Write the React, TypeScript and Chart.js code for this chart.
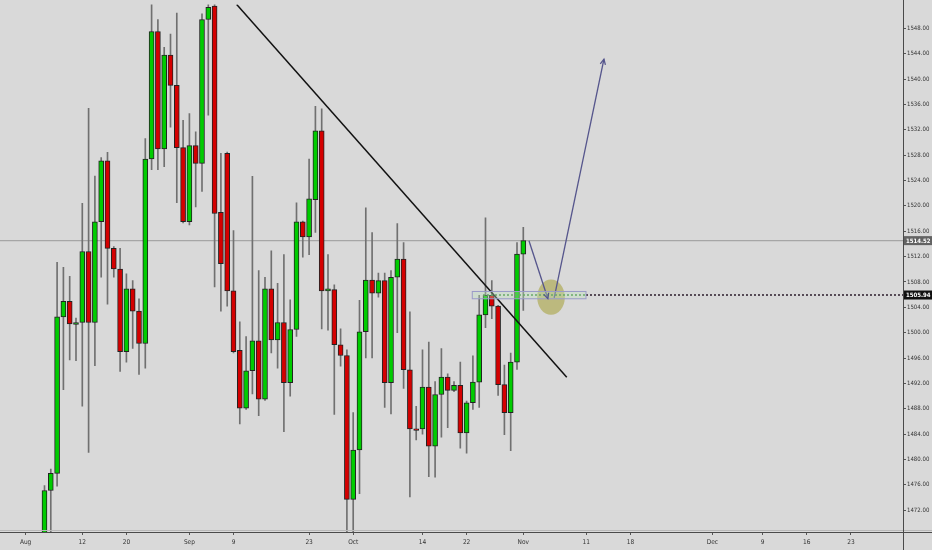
import React, { useEffect, useRef } from "react";
import { Chart, registerables } from "chart.js";
Chart.register(...registerables);

// ---- data (daily candles, index 0 = first visible candle in early Aug) ----
const opens = [
  1466, 1475.1, 1477.8, 1502.5, 1504.95, 1501.3, 1501.6, 1512.8, 1501.6, 1517.5,
  1527.1, 1513.3, 1510.05, 1497.0, 1506.9, 1503.4, 1498.3, 1527.4, 1547.5, 1529.0,
  1543.8, 1539.0, 1529.2, 1517.5, 1529.5, 1526.7, 1549.4, 1551.5, 1519.0, 1528.3,
  1506.6, 1497.2, 1488.1, 1494.0, 1498.7, 1489.5, 1506.9, 1498.85, 1501.6, 1492.1,
  1500.5, 1517.5, 1515.1, 1521.0, 1531.85, 1506.6, 1506.8, 1498.1, 1496.4, 1473.7,
  1481.5, 1500.15, 1508.3, 1506.25, 1508.2, 1492.1, 1508.75, 1511.6, 1494.15, 1484.8,
  1484.8, 1491.4, 1482.1, 1490.25, 1493.0, 1490.9, 1491.7, 1484.2, 1488.95, 1492.2,
  1502.8, 1505.9, 1504.2, 1491.8, 1487.4, 1495.35, 1512.4,
];
const highs = [
  1475.9, 1478.5, 1511.1, 1510.3, 1508.9, 1502.3, 1520.4, 1535.4, 1524.7, 1527.6,
  1528.45, 1513.6, 1513.3, 1509.3, 1508.2, 1505.35, 1530.6, 1553.0, 1549.4, 1545.0,
  1547.1, 1550.4, 1533.5, 1534.55, 1531.7, 1550.3, 1554.0, 1554.5, 1528.3, 1528.5,
  1516.1, 1501.7, 1499.4, 1524.65, 1509.8, 1508.75, 1512.9, 1507.8, 1512.3, 1505.2,
  1520.5, 1517.6, 1527.4, 1535.7, 1535.3, 1512.3, 1507.55, 1500.6, 1497.3, 1487.4,
  1505.1, 1519.7, 1515.8, 1509.4, 1509.4, 1509.8, 1517.2, 1514.2, 1503.3, 1488.4,
  1497.3, 1498.5, 1492.3, 1497.5, 1493.5, 1492.3, 1495.35, 1489.2, 1496.35, 1505.9,
  1518.1, 1508.2, 1504.3, 1494.9, 1496.8, 1514.2, 1516.6,
];
const lows = [
  1462, 1467, 1475.8, 1491.0, 1495.7, 1495.6, 1488.4, 1481.1, 1494.8, 1508.75,
  1504.5, 1508.75, 1493.9, 1495.35, 1497.5, 1493.4, 1494.4, 1525.7, 1525.7, 1526.2,
  1532.4, 1520.5, 1517.3, 1517.0, 1519.85, 1522.3, 1534.3, 1507.2, 1503.4, 1504.2,
  1496.8, 1485.6, 1487.9, 1490.35, 1486.9, 1489.3, 1496.8, 1494.4, 1484.4, 1490.0,
  1499.4, 1511.9, 1512.3, 1515.8, 1500.6, 1500.4, 1487.1, 1494.7, 1466, 1466,
  1474.6, 1496.0, 1496.0, 1505.6, 1488.2, 1487.2, 1500.0, 1491.2, 1474.1, 1483.1,
  1484.0, 1477.3, 1477.2, 1483.5, 1485.0, 1490.7, 1481.8, 1481.0, 1487.9, 1488.2,
  1500.8, 1502.2, 1490.1, 1483.9, 1481.4, 1494.2, 1503.5,
];
const closes = [
  1475.1, 1477.8, 1502.5, 1504.95, 1501.4, 1501.6, 1512.8, 1501.6, 1517.5, 1527.1,
  1513.3, 1510.05, 1497.0, 1506.9, 1503.4, 1498.3, 1527.4, 1547.5, 1529.0, 1543.8,
  1539.0, 1529.2, 1517.5, 1529.5, 1526.7, 1549.4, 1551.3, 1518.8, 1510.9, 1506.6,
  1497.0, 1488.1, 1494.0, 1498.7, 1489.5, 1506.9, 1498.85, 1501.6, 1492.1, 1500.5,
  1517.5, 1515.1, 1521.1, 1531.85, 1506.6, 1506.9, 1498.1, 1496.4, 1473.7, 1481.5,
  1500.15, 1508.3, 1506.25, 1508.2, 1492.1, 1508.75, 1511.6, 1494.15, 1484.8, 1484.6,
  1491.4, 1482.1, 1490.25, 1493.0, 1490.9, 1491.7, 1484.2, 1488.95, 1492.2, 1502.8,
  1505.9, 1504.2, 1491.8, 1487.4, 1495.35, 1512.4, 1514.52,
];

const xTickPositions = [-3, 6, 13, 23, 30, 42, 49, 60, 67, 76, 86, 93, 106, 114, 121, 128];
const xTickLabels = ["Aug", "12", "20", "Sep", "9", "23", "Oct", "14", "22", "Nov", "11", "18", "Dec", "9", "16", "23"];
const yTickValues = [1472, 1476, 1480, 1484, 1488, 1492, 1496, 1500, 1504, 1508, 1512, 1516, 1520, 1524, 1528, 1532, 1536, 1540, 1544, 1548];

const xRange = [-7.063, 136.27];
const yRange = [1468.56, 1551.75];

const lastPrice = 1514.52;
const levelPrice = 1505.94;
const trendlinePts = [{ x: 30.51, y: 1551.75 }, { x: 82.9, y: 1492.96 }];
const arrowDownPts = [{ x: 76.9, y: 1514.5 }, { x: 79.9, y: 1505.36 }];
const arrowUpPts = [{ x: 80.9, y: 1505.5 }, { x: 88.8, y: 1543.15 }];
const levelGreenPts = [{ x: 69.6, y: levelPrice }, { x: 85.95, y: levelPrice }];
const levelDarkPts = [{ x: 85.95, y: levelPrice }, { x: 136.27, y: levelPrice }];
const zoneBox = { x0: 67.9, x1: 85.95, y0: 1505.35, y1: 1506.5 };
const targetEllipse = { x: 80.4, y: 1505.6, rx: 2.19, ry: 2.78 };

const FONT = "'Liberation Sans Narrow', 'DejaVu Sans Condensed', 'Liberation Sans', sans-serif";
const GREEN = "#00cc00";
const RED = "#d40000";

export default function App() {
  const ref = useRef<HTMLCanvasElement | null>(null);

  useEffect(() => {
    const canvas = ref.current;
    if (!canvas) return;

    const wickData = opens.map((_, i) => ({ x: i, y: [lows[i], highs[i]] }));
    const bodyData = opens.map((_, i) => ({ x: i, y: [opens[i], closes[i]] }));
    const bodyColors = opens.map((o, i) => (closes[i] >= o ? GREEN : RED));

    const drawPlugin = {
      id: "tvDecor",
      beforeDraw(chart: any) {
        const { ctx, width, height } = chart;
        ctx.save();
        ctx.fillStyle = "#d9d9d9";
        ctx.fillRect(0, 0, width, height);
        ctx.restore();
      },
      beforeDatasetsDraw(chart: any) {
        const { ctx, scales } = chart;
        const xs = scales.x, ys = scales.y;
        ctx.save();
        const cx = xs.getPixelForValue(targetEllipse.x);
        const cy = ys.getPixelForValue(targetEllipse.y);
        const rx = Math.abs(xs.getPixelForValue(targetEllipse.x + targetEllipse.rx) - cx);
        const ry = Math.abs(ys.getPixelForValue(targetEllipse.y + targetEllipse.ry) - cy);
        ctx.beginPath();
        ctx.ellipse(cx, cy, rx, ry, 0, 0, Math.PI * 2);
        ctx.fillStyle = "rgba(169,164,65,0.6)";
        ctx.fill();
        ctx.restore();
      },
      afterDatasetsDraw(chart: any) {
        const { ctx, scales } = chart;
        const xs = scales.x, ys = scales.y;
        ctx.save();
        const bx0 = xs.getPixelForValue(zoneBox.x0);
        const bx1 = xs.getPixelForValue(zoneBox.x1);
        const by0 = ys.getPixelForValue(zoneBox.y1);
        const by1 = ys.getPixelForValue(zoneBox.y0);
        ctx.fillStyle = "rgba(190,225,190,0.35)";
        ctx.fillRect(bx0, by0, bx1 - bx0, by1 - by0);
        ctx.strokeStyle = "#9a9ac8";
        ctx.lineWidth = 1;
        ctx.strokeRect(bx0, by0, bx1 - bx0, by1 - by0);

        const head = (pts: { x: number; y: number }[]) => {
          const x1 = xs.getPixelForValue(pts[0].x), y1 = ys.getPixelForValue(pts[0].y);
          const x2 = xs.getPixelForValue(pts[1].x), y2 = ys.getPixelForValue(pts[1].y);
          const a = Math.atan2(y2 - y1, x2 - x1);
          const L = 6, w = 0.45;
          ctx.beginPath();
          ctx.moveTo(x2 - L * Math.cos(a - w), y2 - L * Math.sin(a - w));
          ctx.lineTo(x2, y2);
          ctx.lineTo(x2 - L * Math.cos(a + w), y2 - L * Math.sin(a + w));
          ctx.strokeStyle = "#55558c";
          ctx.lineWidth = 1.3;
          ctx.stroke();
        };
        head(arrowDownPts);
        head(arrowUpPts);
        ctx.restore();
      },
      afterDraw(chart: any) {
        const { ctx, chartArea, width, height, scales } = chart;
        const ys = scales.y;
        ctx.save();
        ctx.strokeStyle = "#b8b8b8";
        ctx.lineWidth = 1;
        ctx.beginPath();
        ctx.moveTo(0, chartArea.bottom - 1.5);
        ctx.lineTo(width, chartArea.bottom - 1.5);
        ctx.stroke();
        ctx.strokeStyle = "#4a4a4a";
        ctx.beginPath();
        ctx.moveTo(0, chartArea.bottom + 0.5);
        ctx.lineTo(width, chartArea.bottom + 0.5);
        ctx.stroke();
        ctx.beginPath();
        ctx.moveTo(chartArea.right + 0.5, 0);
        ctx.lineTo(chartArea.right + 0.5, height);
        ctx.stroke();

        const label = (v: number, bg: string) => {
          const y = ys.getPixelForValue(v);
          ctx.fillStyle = bg;
          ctx.fillRect(chartArea.right + 1, y - 4.5, width - chartArea.right - 1, 9);
          ctx.fillStyle = "#ffffff";
          ctx.font = "bold 6px " + FONT;
          ctx.textBaseline = "middle";
          ctx.textAlign = "left";
          ctx.fillText(v.toFixed(2), chartArea.right + 3, y + 0.5);
        };
        label(lastPrice, "#636363");
        label(levelPrice, "#111111");
        ctx.restore();
      },
    };

    const chart = new Chart(canvas, {
      type: "bar",
      data: {
        datasets: [
          {
            type: "line",
            data: [{ x: xRange[0], y: lastPrice }, { x: xRange[1], y: lastPrice }],
            borderColor: "#a6a6a6",
            borderWidth: 1.2,
            pointRadius: 0,
            order: 10,
          } as any,
          {
            type: "bar",
            data: wickData,
            backgroundColor: "#707070",
            borderWidth: 0,
            barThickness: 1,
            grouped: false,
            order: 9,
          } as any,
          {
            type: "bar",
            data: bodyData,
            backgroundColor: bodyColors,
            borderColor: "#222222",
            borderWidth: 1,
            borderSkipped: false,
            barThickness: 5,
            minBarLength: 1.5,
            grouped: false,
            order: 8,
          } as any,
          {
            type: "line",
            data: levelGreenPts,
            borderColor: "#3a8a3a",
            borderWidth: 1.6,
            borderDash: [2, 2],
            pointRadius: 0,
            order: 3,
          } as any,
          {
            type: "line",
            data: levelDarkPts,
            borderColor: "#2a1a2a",
            borderWidth: 1.6,
            borderDash: [2, 2],
            pointRadius: 0,
            order: 3,
          } as any,
          {
            type: "line",
            data: trendlinePts,
            borderColor: "#111111",
            borderWidth: 1.5,
            pointRadius: 0,
            order: 2,
          } as any,
          {
            type: "line",
            data: arrowDownPts,
            borderColor: "#55558c",
            borderWidth: 1.3,
            pointRadius: 0,
            order: 1,
          } as any,
          {
            type: "line",
            data: arrowUpPts,
            borderColor: "#55558c",
            borderWidth: 1.3,
            pointRadius: 0,
            order: 1,
          } as any,
        ],
      },
      options: {
        responsive: false,
        animation: false,
        devicePixelRatio: 1,
        layout: { padding: 0 },
        plugins: { legend: { display: false }, tooltip: { enabled: false } },
        scales: {
          x: {
            type: "linear",
            min: xRange[0],
            max: xRange[1],
            offset: false,
            position: "bottom",
            afterFit: (s: any) => { s.height = 18; },
            afterBuildTicks: (s: any) => { s.ticks = xTickPositions.map((v) => ({ value: v })); },
            grid: { display: true, drawOnChartArea: false, drawTicks: true, tickLength: 3, color: "#555555", offset: false },
            border: { display: false },
            ticks: {
              autoSkip: false,
              maxRotation: 0,
              padding: 3,
              color: "#333333",
              font: { family: FONT, size: 6.5 },
              callback: (_v: any, i: number) => xTickLabels[i],
            },
          },
          y: {
            type: "linear",
            position: "right",
            min: yRange[0],
            max: yRange[1],
            afterFit: (s: any) => { s.width = 29; },
            afterBuildTicks: (s: any) => { s.ticks = yTickValues.map((v) => ({ value: v })); },
            grid: { display: true, drawOnChartArea: false, drawTicks: true, tickLength: 3, color: "#555555" },
            border: { display: false },
            ticks: {
              padding: 1,
              color: "#333333",
              font: { family: FONT, size: 6 },
              callback: (v: any) => Number(v).toFixed(2),
            },
          },
        },
      },
      plugins: [drawPlugin],
    } as any);

    return () => chart.destroy();
  }, []);

  return (
    <div style={{ position: "absolute", left: 0, top: 0, width: 932, height: 550, background: "#d9d9d9" }}>
      <canvas ref={ref} width={932} height={550} style={{ display: "block", width: 932, height: 550 }} />
    </div>
  );
}
